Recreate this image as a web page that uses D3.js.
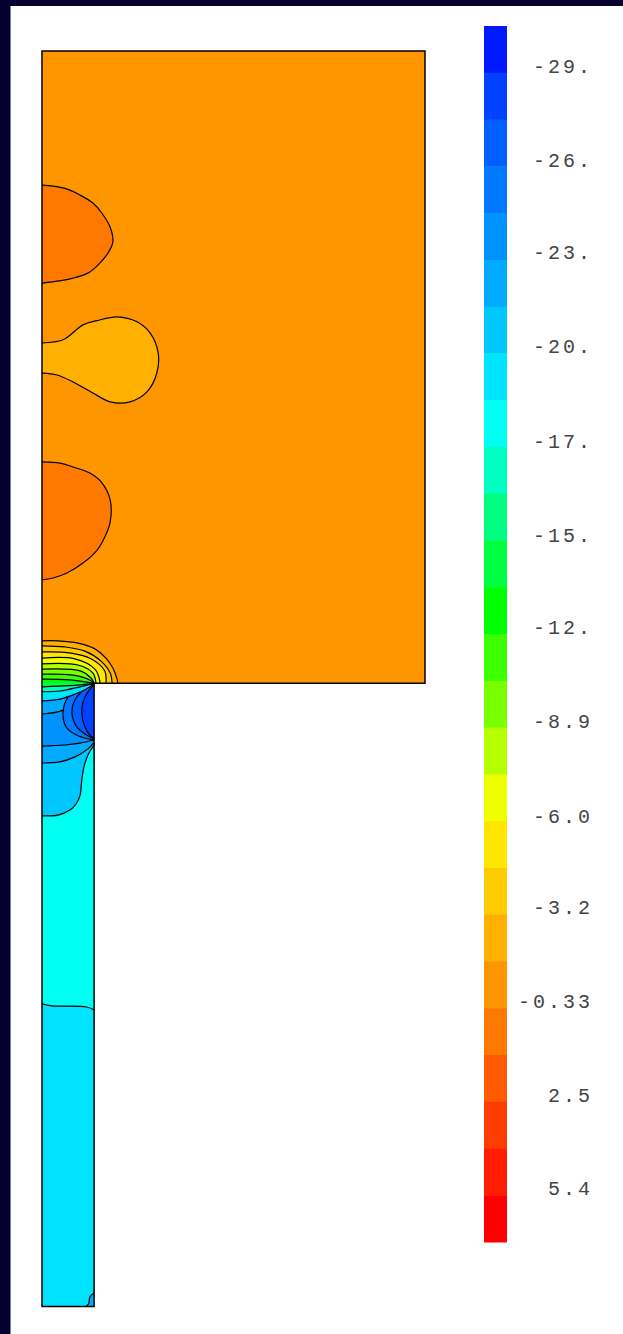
<!DOCTYPE html>
<html>
<head>
<meta charset="utf-8">
<script src="https://cdn.jsdelivr.net/npm/d3@7"></script>
<style>
  body { margin: 0; background: #fff; }
</style>
</head>
<body>
<script>
// colour map, 26 bands from the most negative (top) to the most positive (bottom)
var bandColors = ["#0019ff", "#0042ff", "#0060ff", "#0078ff", "#0092ff", "#00aaff",
                  "#00c8ff", "#00e4ff", "#00fff2", "#00ffc0", "#00ff80", "#00ff42",
                  "#00ff00", "#3cff00", "#78ff00", "#b4ff00", "#eeff00", "#ffe600",
                  "#ffcc00", "#ffb000", "#ff9600", "#ff7800", "#ff5a00", "#ff3c00",
                  "#ff1e00", "#ff0000"];
var valueRange = [-30.43, 6.84];
var tickValues = [-29.0, -26.1, -23.3, -20.4, -17.5, -14.6, -11.8, -8.9, -6.0, -3.2, -0.33, 2.54, 5.4];
var tickLabels = ["-29.", "-26.", "-23.", "-20.", "-17.", "-15.", "-12.", "-8.9", "-6.0", "-3.2", "-0.33", "2.5", "5.4"];

// geometry of the domain (same units on both axes)
var boxArea   = [[0, 32.78], [10, 32.78], [10, 16.27], [0, 16.27]];
var stripArea = [[0, 16.27], [1.36, 16.27], [1.36, 0], [0, 0]];
var outline   = [[0, 32.78], [10, 32.78], [10, 16.27], [1.36, 16.27], [1.36, 0], [0, 0]];

// contour lines
var lobeTop = [[0, 29.28], [0.29, 29.25], [0.64, 29.18], [0.99, 29.02], [1.33, 28.81], [1.56, 28.55],
               [1.78, 28.18], [1.85, 27.79], [1.72, 27.50], [1.46, 27.19], [1.20, 26.98], [0.81, 26.85],
               [0.39, 26.77], [0, 26.72]];
var lobeMid = [[0, 25.16], [0.55, 25.24], [1.07, 25.63], [1.44, 25.74], [1.96, 25.84], [2.48, 25.71],
               [2.82, 25.42], [3.03, 24.92], [3.00, 24.38], [2.74, 23.88], [2.30, 23.62], [1.78, 23.62],
               [1.33, 23.85], [0.81, 24.14], [0.39, 24.32], [0, 24.37]];
var lobeLow = [[0, 22.05], [0.47, 22.02], [0.81, 21.92], [1.25, 21.76], [1.57, 21.50], [1.78, 21.06],
               [1.78, 20.48], [1.64, 20.09], [1.44, 19.75], [1.07, 19.41], [0.65, 19.15], [0.29, 19.02],
               [0, 18.97]];
var arc1 = [[0, 17.38], [0.42, 17.38], [0.94, 17.32], [1.38, 17.17], [1.67, 16.93], [1.85, 16.67], [1.96, 16.38], [1.98, 16.27]];
var arc2 = [[0, 17.25], [0.60, 17.22], [1.12, 17.11], [1.54, 16.85], [1.78, 16.54], [1.83, 16.27]];
var arc3 = [[0, 17.09], [0.76, 17.06], [1.28, 16.91], [1.64, 16.59], [1.67, 16.27]];
var arc4 = [[0, 16.93], [0.86, 16.91], [1.38, 16.64], [1.51, 16.33], [1.51, 16.27]];
var arc5 = [[0, 16.78], [0.94, 16.75], [1.33, 16.54], [1.41, 16.27]];
var arc6 = [[0, 16.64], [1.02, 16.59], [1.28, 16.41], [1.36, 16.27]];
var arc7 = [[0, 16.51], [0.76, 16.49], [1.20, 16.38], [1.36, 16.27]];
var arc8 = [[0, 16.38], [0.73, 16.36], [1.36, 16.27]];
var stripLow  = [[1.36, 7.74], [1.17, 7.82], [0.26, 7.85], [0, 7.90]];
var stripBend = [[0, 12.81], [0.42, 12.83], [0.73, 12.96], [0.89, 13.12], [0.99, 13.33], [1.04, 13.75],
                 [1.10, 14.11], [1.20, 14.40], [1.36, 14.66]];
var stripA = [[0, 14.19], [0.47, 14.22], [0.86, 14.35], [1.20, 14.56], [1.36, 14.73]];
var stripB = [[0, 14.63], [0.60, 14.66], [0.99, 14.71], [1.36, 14.79]];
var wallC0 = [[0, 15.47], [0.50, 15.55], [0.90, 15.80], [1.20, 16.10], [1.36, 16.27]];
var cup1 = [[1.36, 16.23], [0.99, 16.15], [0.68, 15.91], [0.55, 15.52], [0.63, 15.13], [0.94, 14.90], [1.36, 14.79]];
var cup2 = [[1.36, 16.23], [1.10, 16.10], [0.86, 15.84], [0.78, 15.52], [0.89, 15.16], [1.12, 14.95], [1.36, 14.82]];
var cup3 = [[1.36, 16.23], [1.20, 16.05], [1.07, 15.78], [1.04, 15.47], [1.12, 15.13], [1.25, 14.92], [1.36, 14.84]];
var fan1 = [[0, 15.81], [0.47, 15.86], [0.86, 15.99], [1.20, 16.15], [1.36, 16.27]];
var fan2 = [[0, 16.05], [0.47, 16.07], [0.99, 16.18], [1.36, 16.27]];
var fan3 = [[0, 16.18], [0.73, 16.21], [1.36, 16.27]];
var cornerBlip = [[1.36, 0.35], [1.25, 0.25], [1.22, 0.08], [1.15, 0]];

// regions painted in order: level value, contour line, wall points closing the region
var regions = [
  { value: 0.4,   edge: lobeTop,   wall: [] },
  { value: -2.5,  edge: lobeMid,   wall: [] },
  { value: 0.4,   edge: lobeLow,   wall: [] },
  { value: -2.5,  edge: arc1,      wall: [[0, 16.27]] },
  { value: -3.9,  edge: arc2,      wall: [[0, 16.27]] },
  { value: -5.3,  edge: arc3,      wall: [[0, 16.27]] },
  { value: -6.8,  edge: arc4,      wall: [[0, 16.27]] },
  { value: -8.2,  edge: arc5,      wall: [[0, 16.27]] },
  { value: -9.6,  edge: arc6,      wall: [[0, 16.27]] },
  { value: -11.1, edge: arc7,      wall: [[0, 16.27]] },
  { value: -12.5, edge: arc8,      wall: [[0, 16.27]] },
  { value: -18.2, edge: stripLow,  wall: [[0, 16.27], [1.36, 16.27]] },
  { value: -21.1, edge: stripBend, wall: [[1.36, 16.27], [0, 16.27]] },
  { value: -22.5, edge: stripA,    wall: [[1.36, 16.27], [0, 16.27]] },
  { value: -24.0, edge: stripB,    wall: [[1.36, 16.27], [0, 16.27]] },
  { value: -22.5, edge: wallC0,    wall: [[0, 16.27]] },
  { value: -25.4, edge: cup1,      wall: [] },
  { value: -26.8, edge: cup2,      wall: [] },
  { value: -28.3, edge: cup3,      wall: [] },
  { value: -19.7, edge: fan1,      wall: [[0, 16.27]] },
  { value: -16.8, edge: fan2,      wall: [[0, 16.27]] },
  { value: -14.0, edge: fan3,      wall: [[0, 16.27]] },
  { value: -22.5, edge: cornerBlip, wall: [[1.36, 0]] }
];
var boxValue = -1.0;
var stripValue = -19.7;

var width = 623;
var height = 1334;

var x = d3.scaleLinear().domain([0, 10]).range([42, 425]);
var y = d3.scaleLinear().domain([0, 32.78]).range([1306.5, 51]);
var color = d3.scaleQuantize().domain(valueRange).range(bandColors);
var barY = d3.scaleLinear().domain(valueRange).range([26, 1242]);

var svg = d3.select("body")
  .append("svg")
  .attr("width", width)
  .attr("height", height);

svg.append("rect").attr("width", width).attr("height", height).attr("fill", "#fff");
// dark frame on the left and top
svg.append("rect").attr("x", 0).attr("y", 0).attr("width", 10.5).attr("height", height).attr("fill", "#05012e");
svg.append("rect").attr("x", 0).attr("y", 0).attr("width", width).attr("height", 6).attr("fill", "#05012e");

var polyLine = d3.line().x(function(d) { return x(d[0]); }).y(function(d) { return y(d[1]); });
var curveLine = d3.line()
  .x(function(d) { return x(d[0]); })
  .y(function(d) { return y(d[1]); })
  .curve(d3.curveCatmullRom.alpha(0.5));

svg.append("clipPath")
  .attr("id", "domain")
  .append("path")
  .attr("d", polyLine(outline) + "Z");

var field = svg.append("g").attr("clip-path", "url(#domain)");

field.append("path").attr("d", polyLine(boxArea) + "Z").attr("fill", color(boxValue));
field.append("path").attr("d", polyLine(stripArea) + "Z").attr("fill", color(stripValue));

function regionPath(r) {
  var d = curveLine(r.edge);
  r.wall.forEach(function(p) { d += "L" + x(p[0]) + "," + y(p[1]); });
  return d + "Z";
}

var level = field.selectAll("g.level")
  .data(regions)
  .enter()
  .append("g")
  .attr("class", "level");

level.append("path")
  .attr("d", regionPath)
  .attr("fill", function(r) { return color(r.value); });

level.append("path")
  .attr("d", function(r) { return curveLine(r.edge); })
  .attr("fill", "none")
  .attr("stroke", "#000")
  .attr("stroke-width", 1.2);

svg.append("path")
  .attr("d", polyLine(outline) + "Z")
  .attr("fill", "none")
  .attr("stroke", "#000")
  .attr("stroke-width", 1.5);

// colour bar
svg.selectAll("rect.band")
  .data(bandColors)
  .enter()
  .append("rect")
  .attr("class", "band")
  .attr("x", 484)
  .attr("width", 23)
  .attr("y", function(c) { return barY(color.invertExtent(c)[0]); })
  .attr("height", function(c) {
    var e = color.invertExtent(c);
    return barY(e[1]) - barY(e[0]) + 0.5;
  })
  .attr("fill", function(c) { return c; });

svg.selectAll("text.tick")
  .data(tickValues)
  .enter()
  .append("text")
  .attr("class", "tick")
  .text(function(d, i) { return tickLabels[i]; })
  .attr("x", 593)
  .attr("y", function(d) { return barY(d); })
  .attr("font-family", "Liberation Mono, DejaVu Sans Mono, monospace")
  .attr("font-size", "20px")
  .attr("letter-spacing", "3px")
  .attr("fill", "#444")
  .attr("text-anchor", "end");
</script>
</body>
</html>
